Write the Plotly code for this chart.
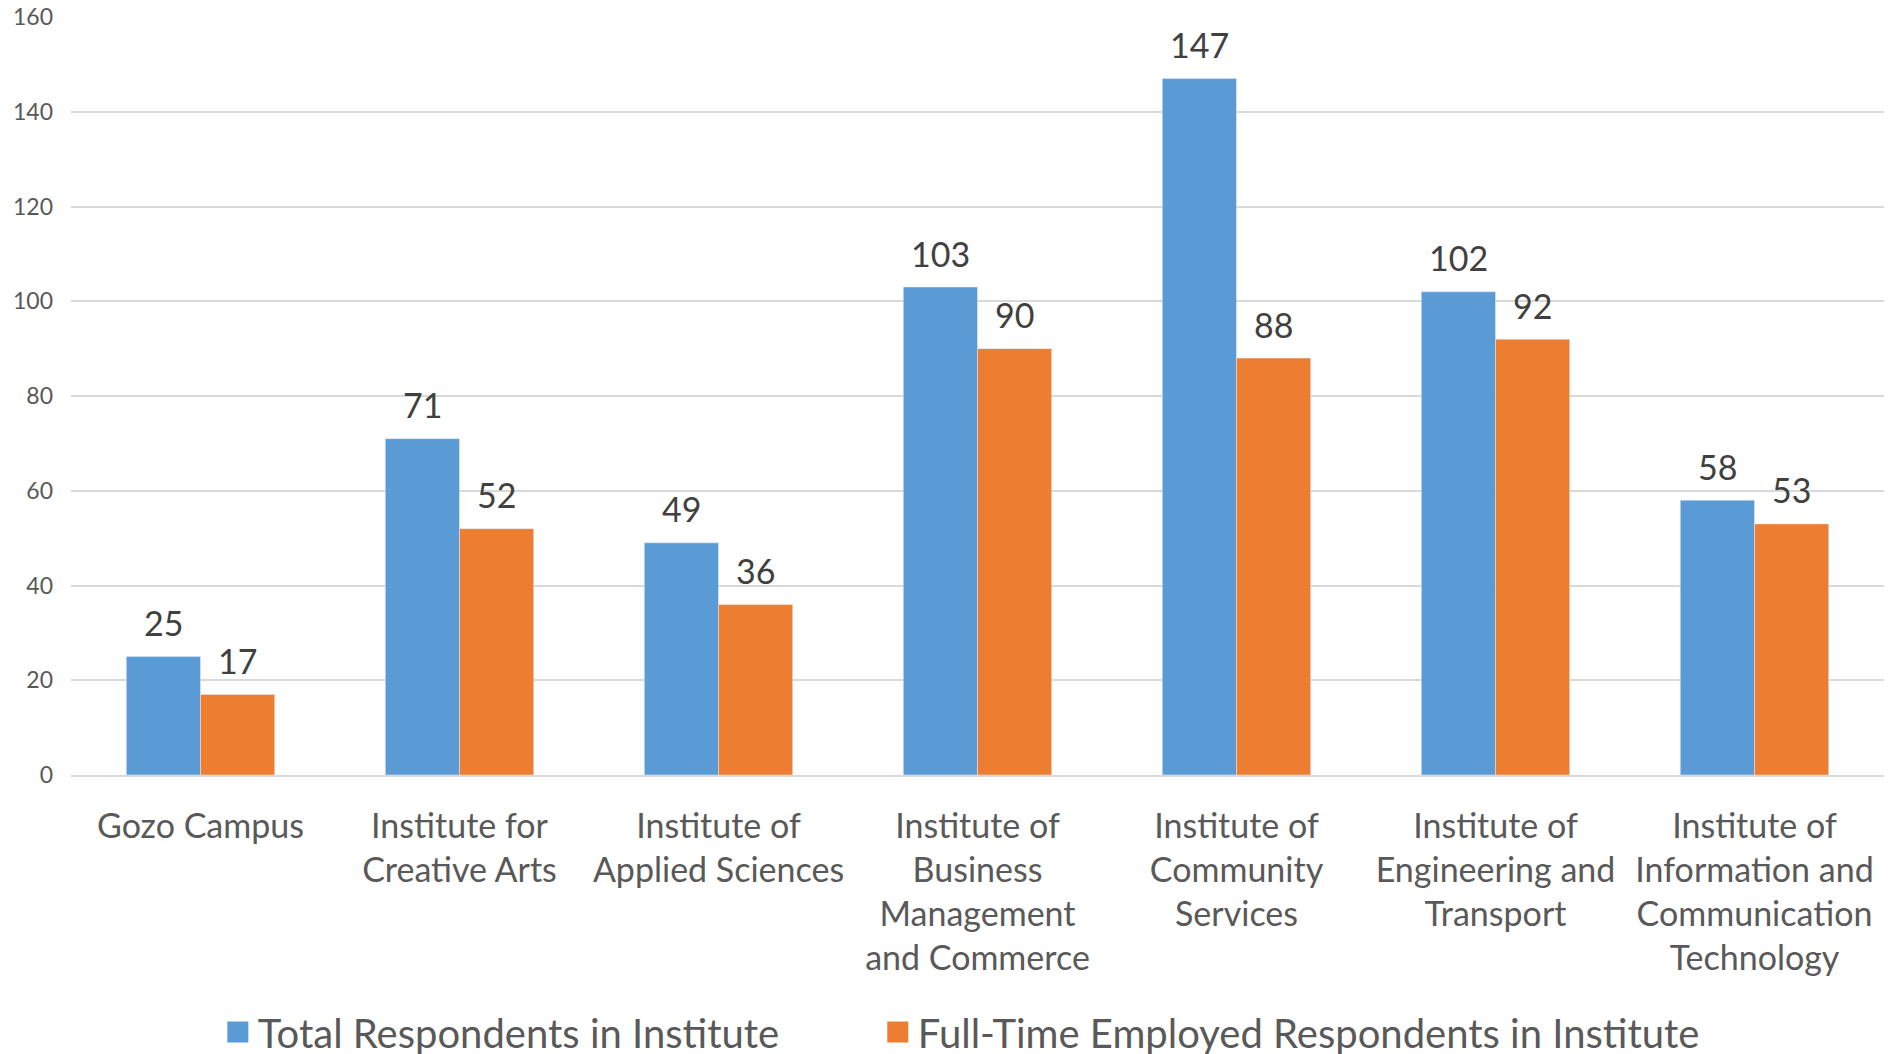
import plotly.graph_objects as go

categories = [
    "Gozo Campus",
    "Institute for<br>Creative Arts",
    "Institute of<br>Applied Sciences",
    "Institute of<br>Business<br>Management<br>and Commerce",
    "Institute of<br>Community<br>Services",
    "Institute of<br>Engineering and<br>Transport",
    "Institute of<br>Information and<br>Communication<br>Technology",
]
total = [25, 71, 49, 103, 147, 102, 58]
full_time = [17, 52, 36, 90, 88, 92, 53]

series = [
    ("Total Respondents in Institute", total, "#5B9BD5", -37, "legend", 0.081),
    ("Full-Time Employed Respondents in Institute", full_time, "#ED7D31", 37, "legend2", 0.445),
]

font_family = "Lato, 'Open Sans', sans-serif"

fig = go.Figure()
for name, vals, color, dx, leg, legx in series:
    fig.add_trace(go.Bar(x=categories, y=vals, name=name, marker_color=color,
                         showlegend=False))
    # legend entry with a bigger square symbol
    fig.add_trace(go.Scatter(x=[None], y=[None], mode="markers", name=name, legend=leg,
                             marker=dict(symbol="square", size=16, color=color,
                                         line=dict(color=color, width=5))))
    fig.update_layout({leg: dict(orientation="h", x=legx, xanchor="left", y=-0.339,
                                 yanchor="middle", font=dict(size=40, color="#595959"),
                                 itemwidth=30)})
    # value labels above the bars
    for c, v in zip(categories, vals):
        fig.add_annotation(x=c, y=v, text=str(v), showarrow=False, xshift=dx,
                           yshift=34, yanchor="middle",
                           font=dict(size=34, color="#404040"))

# page body has an 8px margin, so the figure is shifted by 8px
fig.update_layout(
    width=1876, height=1054,
    barmode="group", bargap=0.427, bargroupgap=0,
    plot_bgcolor="white", paper_bgcolor="white",
    font=dict(family=font_family, color="#595959"),
    margin=dict(l=63, r=0, t=9, b=287, autoexpand=False),
)
fig.update_xaxes(tickfont=dict(size=34, color="#595959"), showline=True,
                 linecolor="#D9D9D9", linewidth=1.5, ticks="", ticklabelstandoff=20,
                 automargin=False)
fig.update_yaxes(range=[0, 160], dtick=20, showgrid=True, gridcolor="#D9D9D9",
                 gridwidth=1.5, zeroline=False, tickfont=dict(size=23, color="#595959"),
                 ticklabelstandoff=17, ticklabeloverflow="allow", automargin=False)

fig.write_html("out.html")
